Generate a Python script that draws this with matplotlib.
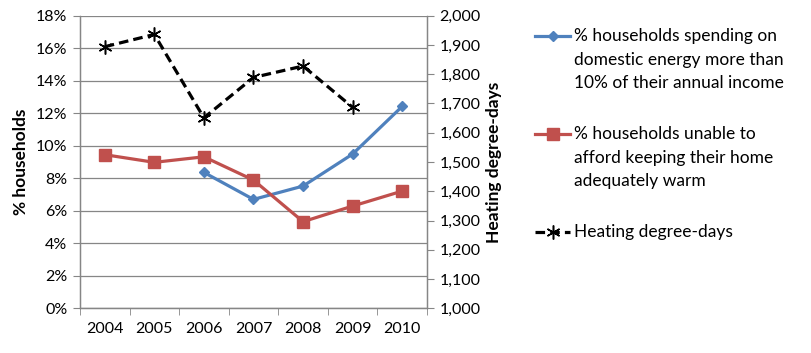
import matplotlib.pyplot as plt
from matplotlib.lines import Line2D
from matplotlib.ticker import FuncFormatter

plt.rcParams['font.family'] = ['Lato', 'DejaVu Sans']

# data
years = ['2004', '2005', '2006', '2007', '2008', '2009', '2010']
spending = [None, None, 8.36, 6.70, 7.52, 9.49, 12.42]
unable_warm = [9.45, 8.98, 9.32, 7.89, 5.33, 6.29, 7.21]
hdd = [1894, 1936, 1651, 1789, 1828, 1687, None]

lbl_spend = "% households spending on\ndomestic energy more than\n10% of their annual income"
lbl_warm = "% households unable to\nafford keeping their home\nadequately warm"
lbl_hdd = "Heating degree-days"

blue = '#4F81BD'
red = '#C0504D'
grey = '#868686'

fig = plt.figure(figsize=(8.11, 3.53), dpi=100)
ax = fig.add_axes([0.0986, 0.1266, 0.4279, 0.8289])
ax2 = ax.twinx()

x = list(range(len(years)))

def pts(vals):
    xs = [i for i, v in zip(x, vals) if v is not None]
    ys = [v for v in vals if v is not None]
    return xs, ys

st_spend = dict(color=blue, lw=2.3, marker='D', ms=5.5)
st_warm = dict(color=red, lw=2.3, marker='s', ms=8)
st_hdd = dict(color='black', lw=2.3, ls=(0, (3, 1.6)), marker=(6, 2, 0), ms=10, mew=1.1)

xs, ys = pts(spending)
ax.plot(xs, ys, zorder=3, **st_spend)
xs, ys = pts(unable_warm)
ax.plot(xs, ys, zorder=3, **st_warm)
xs, ys = pts(hdd)
ax2.plot(xs, ys, zorder=3, **st_hdd)

ax.set_xlim(-0.5, len(years) - 0.5)
ax.set_ylim(0, 18)
ax.set_yticks(range(0, 19, 2))
ax.yaxis.set_major_formatter(FuncFormatter(lambda v, p: f"{int(v)}%"))
ax.set_xticks(x)
ax.set_xticklabels(years)
ax.set_xticks([i - 0.5 for i in range(len(years) + 1)], minor=True)
ax.tick_params(axis='x', which='major', length=0, pad=10, labelsize=11.5)
ax.tick_params(axis='x', which='minor', length=5, color=grey)
ax.tick_params(axis='y', length=5, color=grey, labelsize=11.5, pad=4)
ax.grid(axis='y', color=grey, lw=0.9)
ax.set_axisbelow(True)

ax2.set_ylim(1000, 2000)
ax2.set_yticks(range(1000, 2001, 100))
ax2.yaxis.set_major_formatter(FuncFormatter(lambda v, p: f"{int(v):,}"))
ax2.tick_params(axis='y', length=5, color=grey, labelsize=11.5, pad=4)

for a in (ax, ax2):
    a.spines['top'].set_visible(False)
    for s in ('left', 'right', 'bottom'):
        a.spines[s].set_color(grey)
        a.spines[s].set_linewidth(0.9)

ax.set_ylabel("% households", fontsize=12.5, fontweight='bold', labelpad=5)
ax2.set_ylabel("Heating degree-days", fontsize=12.5, fontweight='bold', labelpad=4)

# legend drawn by hand so the handle sits at the first text line
W, H = 811, 353
entries = [(lbl_spend, st_spend, 36), (lbl_warm, st_warm, 134), (lbl_hdd, st_hdd, 232)]
for text, style, ypix in entries:
    yf = 1 - ypix / H
    line_st = {k: v for k, v in style.items() if k not in ('marker', 'ms', 'mew')}
    fig.add_artist(Line2D([535 / W, 570 / W], [yf, yf], transform=fig.transFigure, **line_st))
    mk_st = {k: v for k, v in style.items() if k not in ('lw', 'ls')}
    fig.add_artist(Line2D([552.5 / W], [yf], transform=fig.transFigure, ls='none', **mk_st))
    # first text line centred on the handle
    fig.text(574 / W, yf + 8 / H, text, fontsize=12.5, va='top', ha='left',
             linespacing=1.58, transform=fig.transFigure)

fig.savefig('out.png', dpi=100)
